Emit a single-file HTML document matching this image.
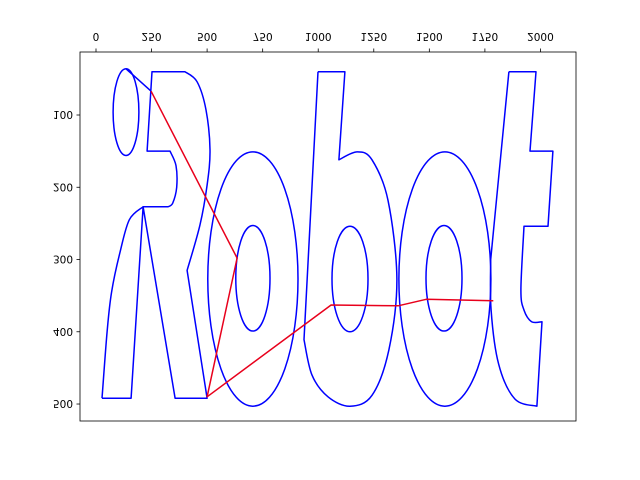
<!DOCTYPE html>
<html><head><meta charset="utf-8"><style>
html,body{margin:0;padding:0;background:#fff;}
svg{display:block;font-family:"DejaVu Sans","Liberation Sans",sans-serif;}
</style></head><body>
<svg id="chart" width="640" height="480" viewBox="0 0 640 480" xmlns="http://www.w3.org/2000/svg">
<rect x="0" y="0" width="640" height="480" fill="#fff"/>
<g id="plot"></g>
<g id="axes"></g>
</svg>
<script>
const xTicks = [0, 250, 500, 750, 1000, 1250, 1500, 1750, 2000];
const yTicks = [100, 200, 300, 400, 500];
const xTickLabels = ["0","250","500","750","1000","1250","1500","1750","2000"];
const yTickLabels = ["100","200","300","400","500"];
// [x, y, corner(1)/smooth(0)]
const rOuter = [[27,492,1],[158,492,1],[212,227,1],[356,492,1],[500,492,1],[410,315,1],[468,252,0],[500,197,0],[513,148,0],[495,93,0],[455,54,0],[400,40,1],[252,40,1],[230,150,1],[333,150,1],[360,170,0],[363,200,0],[345,222,0],[324,227,1],[212,227,1],[150,245,0],[108,290,0],[70,345,0],[50,400,0],[27,492,1]];
const bOuter = [[999,40,1],[1120,40,1],[1093,162,1],[1175,151,0],[1242,162,0],[1314,218,0],[1354,327,0],[1318,425,0],[1242,488,0],[1143,503,0],[1044,490,0],[972,460,0],[936,411,1],[999,40,1]];
const tOuter = [[1858,40,1],[1980,40,1],[1953,150,1],[2056,150,1],[2034,254,1],[1926,254,1],[1912,342,0],[1926,370,0],[1960,386,0],[2007,386,1],[1984,503,1],[1885,493,0],[1812,445,0],[1778,370,0],[1776,300,1],[1858,40,1]];
const connector = [[135,36,1],[248,67,1]];
// ellipses: [cx, cy, rx, ry]
const ellipses = [[135,96,58,60],[706,327,203,176],[706,326,77,73],[1143,327,81,73],[1570,327,207,176],[1566,326,81,73]];
const redX = [248, 635, 500, 1058, 1360, 1486, 1788];
const redY = [67, 298, 490, 363, 364, 355, 357];

const L=80,R=576,T=52,B=421;
const xMin=-72,xMax=2160,yMin=12.8,yMax=523.5;
const sx=v=>L+(v-xMin)/(xMax-xMin)*(R-L);
const sy=v=>T+(v-yMin)/(yMax-yMin)*(B-T);
const NS="http://www.w3.org/2000/svg";
const plot=document.getElementById('plot'),axes=document.getElementById('axes');
function mk(tag,attrs,parent){const e=document.createElementNS(NS,tag);for(const k in attrs)e.setAttribute(k,attrs[k]);parent.appendChild(e);return e;}
function smoothPath(pts){
  const P=pts.map(p=>[sx(p[0]),sy(p[1]),p[2]]);
  let d='M'+P[0][0].toFixed(1)+','+P[0][1].toFixed(1);
  for(let i=0;i<P.length-1;i++){
    const p1=P[i],p2=P[i+1];
    const p0=(p1[2]||i===0)?p1:P[i-1];
    const p3=(p2[2]||i+2>=P.length)?p2:P[i+2];
    const c1=[p1[0]+(p2[0]-p0[0])/6,p1[1]+(p2[1]-p0[1])/6];
    const c2=[p2[0]-(p3[0]-p1[0])/6,p2[1]-(p3[1]-p1[1])/6];
    d+=' C'+c1[0].toFixed(1)+','+c1[1].toFixed(1)+' '+c2[0].toFixed(1)+','+c2[1].toFixed(1)+' '+p2[0].toFixed(1)+','+p2[1].toFixed(1);
  }
  return d;
}
function shape(pts,name){
  const e=mk('path',{d:smoothPath(pts),fill:'none',stroke:'#0000ff','stroke-width':1.5,'stroke-linejoin':'round'},plot);
  
  
}
shape(rOuter,'letter-r-outline');
shape(bOuter,'letter-b-outline');
shape(tOuter,'letter-t-outline');
shape(connector,'connector-line');
ellipses.forEach((el,i)=>{
  const e=mk('ellipse',{cx:sx(el[0]),cy:sy(el[1]),rx:Math.abs(sx(el[0]+el[2])-sx(el[0])),ry:Math.abs(sy(el[1]+el[3])-sy(el[1])),fill:'none',stroke:'#0000ff','stroke-width':1.5},plot);
  
  
});
const red=mk('polyline',{points:redX.map((x,i)=>sx(x).toFixed(1)+','+sy(redY[i]).toFixed(1)).join(' '),fill:'none',stroke:'#e8001c','stroke-width':1.5,'stroke-linejoin':'round'},plot);



const frame=mk('rect',{x:L,y:T,width:R-L,height:B-T,fill:'none',stroke:'#000','stroke-width':0.8},axes);


xTicks.forEach((v,i)=>{
  const x=sx(v);
  const t=mk('line',{x1:x,y1:T,x2:x,y2:T-3.5,stroke:'#000','stroke-width':0.8},axes);
  
  
  const tx=mk('text',{x:x,y:-33,'text-anchor':'middle','font-size':10.5,transform:'scale(1,-1)'},axes);
  tx.textContent=xTickLabels[i];
  
  
});
yTicks.forEach((v,i)=>{
  const y=sy(v);
  const t=mk('line',{x1:L,y1:y,x2:L-3.5,y2:y,stroke:'#000','stroke-width':0.8},axes);
  
  
  const tx=mk('text',{x:L-7,y:-(y-4),'text-anchor':'end','font-size':10.5,transform:'scale(1,-1)'},axes);
  tx.textContent=yTickLabels[i];
  
  
});
</script>
</body></html>
